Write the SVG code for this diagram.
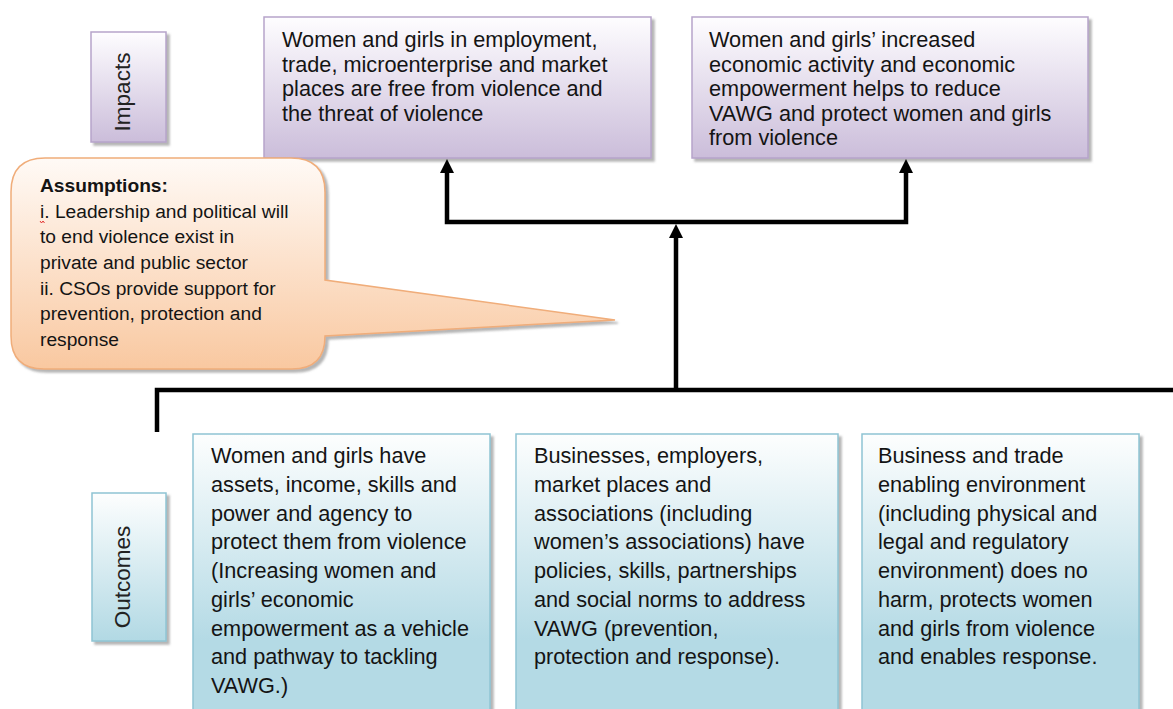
<svg xmlns="http://www.w3.org/2000/svg" width="1173" height="709" viewBox="0 0 1173 709">
  <defs>
    <linearGradient id="gPurple" x1="0" y1="0" x2="0" y2="1">
      <stop offset="0" stop-color="#fefdff"/>
      <stop offset="1" stop-color="#cbbdda"/>
    </linearGradient>
    <linearGradient id="gBlue" x1="0" y1="0" x2="0" y2="1">
      <stop offset="0" stop-color="#fdfefe"/>
      <stop offset="1" stop-color="#b2d9e4"/>
    </linearGradient>
    <linearGradient id="gBlueTall" gradientUnits="userSpaceOnUse" x1="0" y1="434" x2="0" y2="640">
      <stop offset="0" stop-color="#fdfefe"/>
      <stop offset="1" stop-color="#b4dae5"/>
    </linearGradient>
    <linearGradient id="gPeach" x1="0" y1="0" x2="0" y2="1">
      <stop offset="0" stop-color="#fffaf6"/>
      <stop offset="1" stop-color="#f9c8a0"/>
    </linearGradient>
    <filter id="shadow" x="-10%" y="-10%" width="130%" height="130%">
      <feDropShadow dx="3" dy="3" stdDeviation="1.2" flood-color="#7a7a7a" flood-opacity="0.55"/>
    </filter>
    <marker id="arrow" viewBox="0 0 14 14" refX="0" refY="7" markerWidth="14" markerHeight="14" markerUnits="userSpaceOnUse" orient="auto-start-reverse">
      <path d="M0,0 L14,7 L0,14 Z" fill="#000"/>
    </marker>
    <style>
      .purple { fill: url(#gPurple); stroke: #b6a4ca; stroke-width: 1.5; filter: url(#shadow); }
      .blue { fill: url(#gBlueTall); stroke: #8fc4d3; stroke-width: 1.5; filter: url(#shadow); }
      .blueLabel { fill: url(#gBlue); stroke: #8fc4d3; stroke-width: 1.5; filter: url(#shadow); }
      .txt { font-family: "Liberation Sans", Arial, sans-serif; font-size: 21.7px; fill: #141414; }
      .lbl { font-family: "Liberation Sans", Arial, sans-serif; font-size: 22.5px; fill: #222; text-anchor: middle; }
      .asm { font-family: "Liberation Sans", Arial, sans-serif; font-size: 19.2px; fill: #141414; }
      .conn { fill: none; stroke: #000; stroke-width: 4.5; stroke-linejoin: miter; }
    </style>
  </defs>
  <rect width="1173" height="709" fill="#fff"/>

  <g id="impacts-label">
    <rect class="purple" x="91" y="32" width="75" height="110"/>
    <text class="lbl" transform="translate(130,92) rotate(-90)">Impacts</text>
  </g>

  <g id="impact-1">
    <rect class="purple" x="264" y="17" width="387" height="141"/>
    <text class="txt" x="282" y="47">Women and girls in employment,</text>
    <text class="txt" x="282" y="71.5">trade, microenterprise and market</text>
    <text class="txt" x="282" y="96">places are free from violence and</text>
    <text class="txt" x="282" y="120.5">the threat of violence</text>
  </g>

  <g id="impact-2">
    <rect class="purple" x="692" y="17" width="396" height="141"/>
    <text class="txt" x="709" y="47">Women and girls’ increased</text>
    <text class="txt" x="709" y="71.5">economic activity and economic</text>
    <text class="txt" x="709" y="96">empowerment helps to reduce</text>
    <text class="txt" x="709" y="120.5">VAWG and protect women and girls</text>
    <text class="txt" x="709" y="145">from violence</text>
  </g>

  <g id="connectors">
    <path class="conn" d="M157,432 V390 H1180"/>
    <path class="conn" d="M676,390 V238" marker-end="url(#arrow)"/>
    <path class="conn" d="M447,173 V222 H906 V173" marker-start="url(#arrow)" marker-end="url(#arrow)"/>
  </g>

  <g id="assumptions">
    <path d="M45,158 H291 Q325,158 325,192 V280 L615,320 L325,336 V336 Q325,369 292,369 H44 Q11,369 11,336 V192 Q11,158 45,158 Z" fill="url(#gPeach)" stroke="#f0ad7a" stroke-width="1.5" filter="url(#shadow)"/>
    <text class="asm" x="40" y="192" font-weight="bold">Assumptions:</text>
    <text class="asm" x="40" y="217.5">i. Leadership and political will</text>
    <path d="M40,221 l1.5,2 l1.5,-2 l1.5,2" fill="none" stroke="#e02020" stroke-width="0.9"/>
    <text class="asm" x="40" y="243">to end violence exist in</text>
    <text class="asm" x="40" y="268.5">private and public sector</text>
    <text class="asm" x="40" y="294.5">ii. CSOs provide support for</text>
    <text class="asm" x="40" y="320">prevention, protection and</text>
    <text class="asm" x="40" y="345.5">response</text>
  </g>

  <g id="outcomes-label">
    <rect class="blueLabel" x="92" y="493" width="74" height="148"/>
    <text class="lbl" transform="translate(130,577) rotate(-90)">Outcomes</text>
  </g>

  <g id="outcome-1">
    <rect class="blue" x="193" y="434" width="297" height="290"/>
    <text class="txt" x="211" y="463">Women and girls have</text>
    <text class="txt" x="211" y="491.8">assets, income, skills and</text>
    <text class="txt" x="211" y="520.5">power and agency to</text>
    <text class="txt" x="211" y="549.3">protect them from violence</text>
    <text class="txt" x="211" y="578">(Increasing women and</text>
    <text class="txt" x="211" y="606.8">girls’ economic</text>
    <text class="txt" x="211" y="635.5">empowerment as a vehicle</text>
    <text class="txt" x="211" y="664.3">and pathway to tackling</text>
    <text class="txt" x="211" y="693">VAWG.)</text>
  </g>

  <g id="outcome-2">
    <rect class="blue" x="516" y="434" width="322" height="290"/>
    <text class="txt" x="534" y="463">Businesses, employers,</text>
    <text class="txt" x="534" y="491.8">market places and</text>
    <text class="txt" x="534" y="520.5">associations (including</text>
    <text class="txt" x="534" y="549.3">women’s associations) have</text>
    <text class="txt" x="534" y="578">policies, skills, partnerships</text>
    <text class="txt" x="534" y="606.8">and social norms to address</text>
    <text class="txt" x="534" y="635.5">VAWG (prevention,</text>
    <text class="txt" x="534" y="664.3">protection and response).</text>
  </g>

  <g id="outcome-3">
    <rect class="blue" x="862" y="434" width="277" height="290"/>
    <text class="txt" x="878" y="463">Business and trade</text>
    <text class="txt" x="878" y="491.8">enabling environment</text>
    <text class="txt" x="878" y="520.5">(including physical and</text>
    <text class="txt" x="878" y="549.3">legal and regulatory</text>
    <text class="txt" x="878" y="578">environment) does no</text>
    <text class="txt" x="878" y="606.8">harm, protects women</text>
    <text class="txt" x="878" y="635.5">and girls from violence</text>
    <text class="txt" x="878" y="664.3">and enables response.</text>
  </g>
</svg>
